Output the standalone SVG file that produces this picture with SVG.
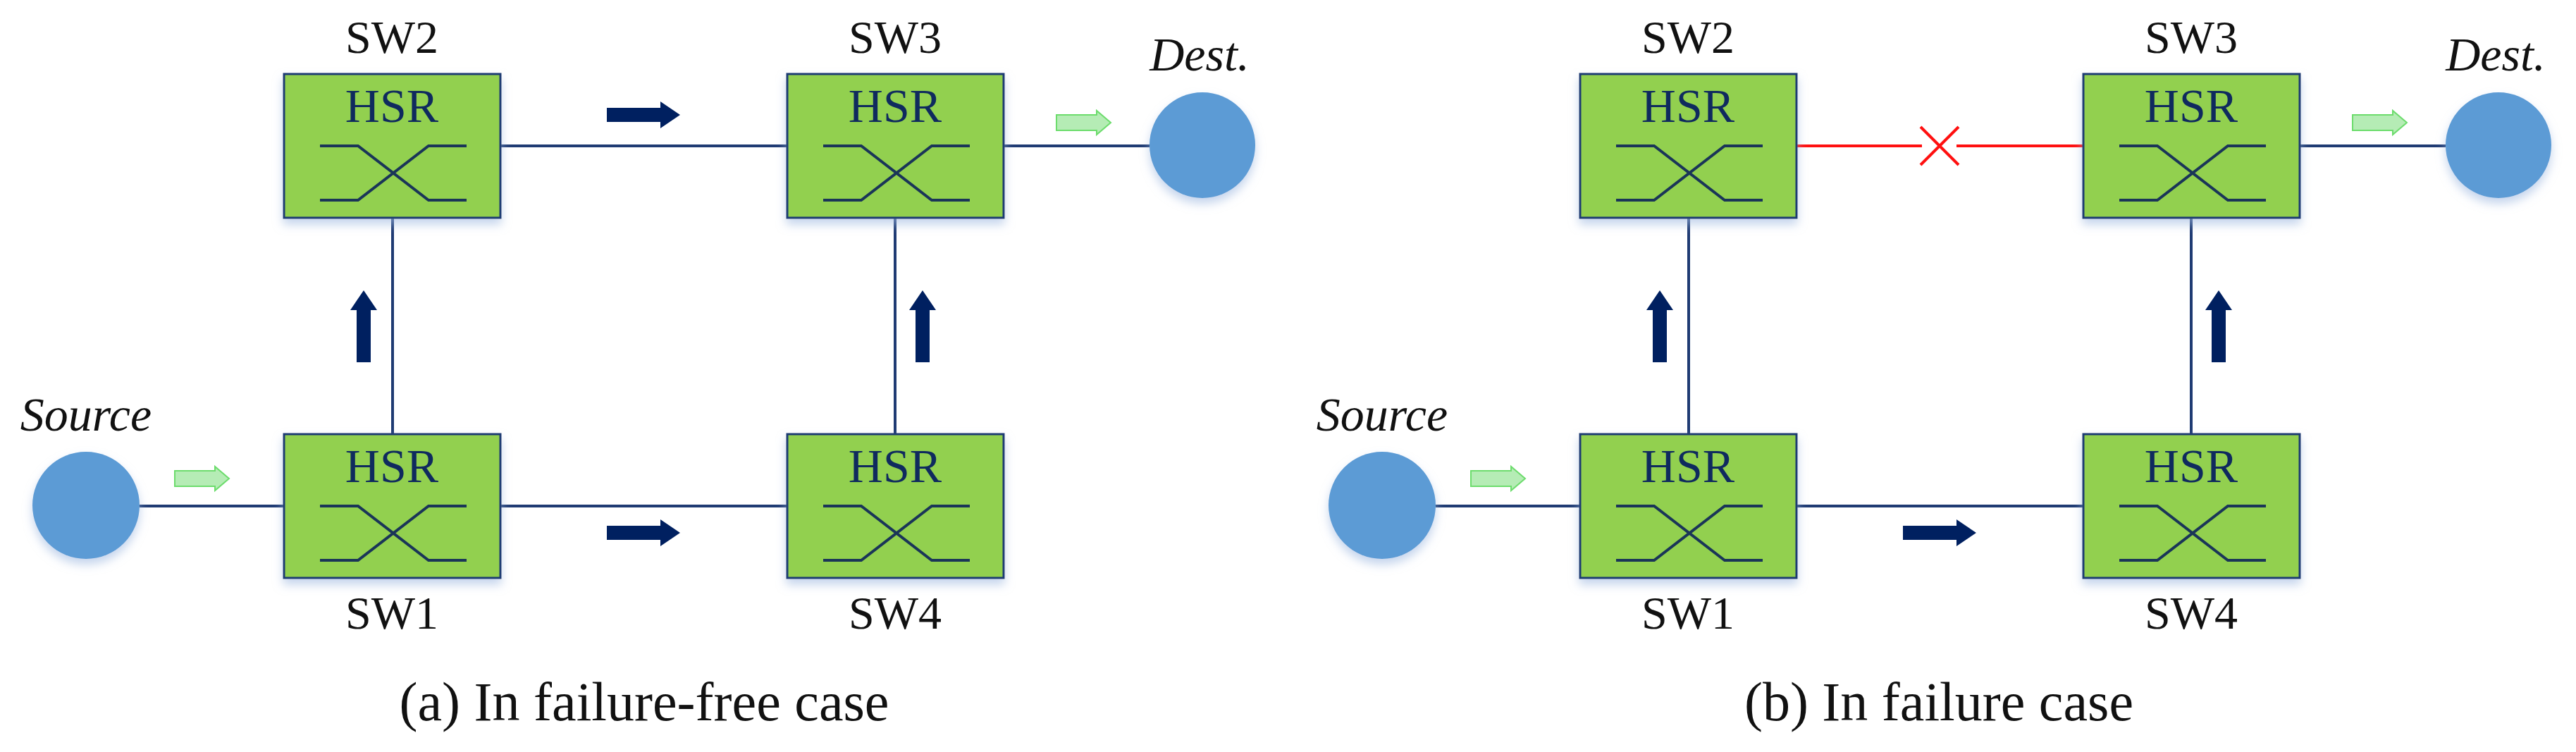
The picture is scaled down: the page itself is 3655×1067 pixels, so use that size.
<svg xmlns="http://www.w3.org/2000/svg" width="3655" height="1067" viewBox="0 0 3655 1067">
<defs>
<filter id="sh" x="-20%" y="-20%" width="140%" height="150%">
<feDropShadow dx="0" dy="8" stdDeviation="7" flood-color="#9db8e0" flood-opacity="0.6"/>
</filter>
<g id="sw">
<rect x="0" y="0" width="307" height="204" class="box" filter="url(#sh)"/>
<text x="153" y="68" class="hsr">HSR</text>
<path d="M51,102 H105 L205,179 H259 M51,179 H105 L205,102 H259" class="cross"/>
</g>
<path id="rarrow" d="M0,-10 H76 V-19 L104,0 L76,19 V10 H0 Z"/>
<path id="uarrow" d="M-10,0 V-74 H-19 L0,-102 L19,-74 H10 V0 Z"/>
<path id="garrow" d="M0,-11 H57 V-17 L77,0 L57,17 V11 H0 Z"/>
</defs>
<style>
.box{fill:#92d050;stroke:#1f3b73;stroke-width:3}
.hsr{font-family:"Liberation Serif",serif;font-size:68px;fill:#0f2a5e;text-anchor:middle}
.cross{fill:none;stroke:#1a3558;stroke-width:4}
.lbl{font-family:"Liberation Serif",serif;font-size:66px;fill:#111;text-anchor:middle}
.it{font-family:"Liberation Serif",serif;font-size:68px;font-style:italic;fill:#111;text-anchor:middle}
.cap{font-family:"Liberation Serif",serif;font-size:78px;fill:#111;text-anchor:middle}
.ln{stroke:#1f3b73;stroke-width:4;fill:none}
.red{stroke:#ff1010;stroke-width:4;fill:none}
.da{fill:#002060}
.ga{fill:#b5ecb5;stroke:#6cdc6c;stroke-width:2}
.host{fill:#5b9bd5}
</style>
<rect width="3655" height="1067" fill="#fff"/>
<g id="connectors">
<path class="ln" d="M198,718 H403 M709,718 H1117 M709,207 H1117 M1425,207 H1631 M557,309 V616 M1270,309 V616"/>
<path class="ln" d="M2037,718 H2242 M2548,718 H2956 M3264,207 H3470 M2396,309 V616 M3109,309 V616"/>
<path class="red" d="M2548,207 H2727 M2776,207 H2956 M2725,180 L2779,234 M2779,180 L2725,234"/>
<use href="#rarrow" x="861" y="163" class="da"/>
<use href="#rarrow" x="861" y="756" class="da"/>
<use href="#uarrow" x="516" y="514" class="da"/>
<use href="#uarrow" x="1309" y="514" class="da"/>
<use href="#garrow" x="248" y="679" class="ga"/>
<use href="#garrow" x="1499" y="174" class="ga"/>
<use href="#rarrow" x="2700" y="756" class="da"/>
<use href="#uarrow" x="2355" y="514" class="da"/>
<use href="#uarrow" x="3148" y="514" class="da"/>
<use href="#garrow" x="2087" y="679" class="ga"/>
<use href="#garrow" x="3338" y="174" class="ga"/>
</g>
<g id="a-src"><circle cx="122" cy="717" r="76" class="host" filter="url(#sh)"/><text x="122" y="611" class="it">Source</text></g>
<g id="a-dst"><circle cx="1706" cy="206" r="75" class="host" filter="url(#sh)"/><text x="1702" y="100" class="it">Dest.</text></g>
<g id="a-sw1"><use href="#sw" x="403" y="616"/><text x="556" y="892" class="lbl">SW1</text></g>
<g id="a-sw2"><use href="#sw" x="403" y="105"/><text x="556" y="75" class="lbl">SW2</text></g>
<g id="a-sw3"><use href="#sw" x="1117" y="105"/><text x="1270" y="75" class="lbl">SW3</text></g>
<g id="a-sw4"><use href="#sw" x="1117" y="616"/><text x="1270" y="892" class="lbl">SW4</text></g>
<text x="914" y="1022" class="cap">(a) In failure-free case</text>
<g id="b-src"><circle cx="1961" cy="717" r="76" class="host" filter="url(#sh)"/><text x="1961" y="611" class="it">Source</text></g>
<g id="b-dst"><circle cx="3545" cy="206" r="75" class="host" filter="url(#sh)"/><text x="3541" y="100" class="it">Dest.</text></g>
<g id="b-sw1"><use href="#sw" x="2242" y="616"/><text x="2395" y="892" class="lbl">SW1</text></g>
<g id="b-sw2"><use href="#sw" x="2242" y="105"/><text x="2395" y="75" class="lbl">SW2</text></g>
<g id="b-sw3"><use href="#sw" x="2956" y="105"/><text x="3109" y="75" class="lbl">SW3</text></g>
<g id="b-sw4"><use href="#sw" x="2956" y="616"/><text x="3109" y="892" class="lbl">SW4</text></g>
<text x="2751" y="1022" class="cap">(b) In failure case</text>
</svg>
